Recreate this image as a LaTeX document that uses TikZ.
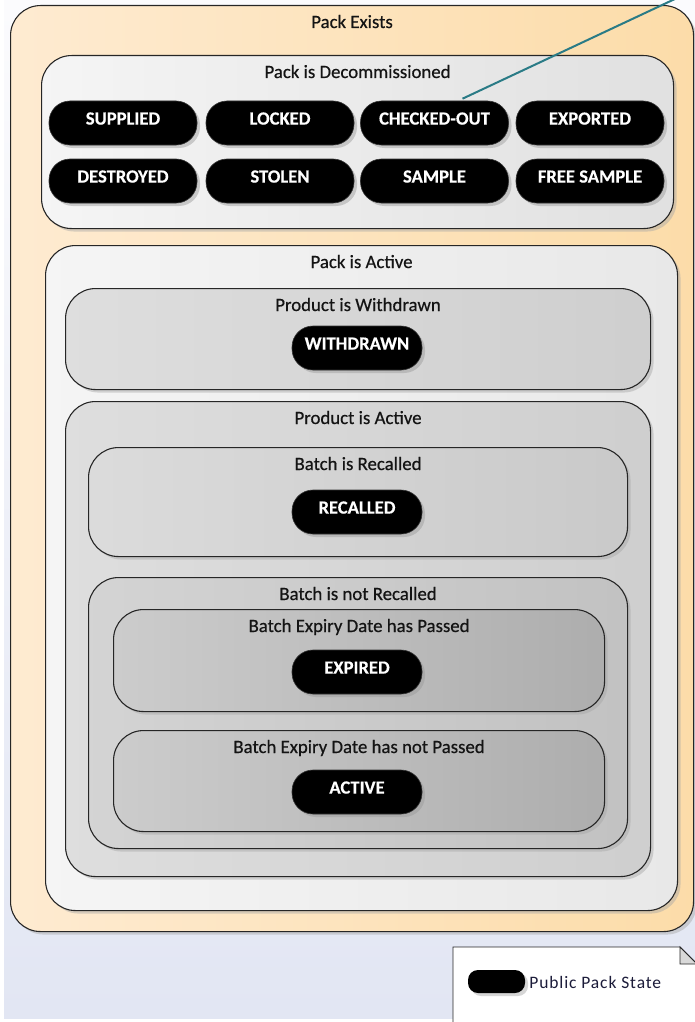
\documentclass[tikz,border=0pt]{standalone}
\usepackage{fontspec}
\setmainfont{Carlito}
\newfontfamily\regiontitlefont{Carlito}[FakeBold=0.5]
\newfontfamily\pillfont{Carlito}[BoldFeatures={FakeBold=0.4}]
\usetikzlibrary{calc,shadows}

\definecolor{bgtop}{HTML}{FBFBFD}
\definecolor{bgbottom}{HTML}{E2E6F3}
\definecolor{existsL}{HTML}{FEEBD1}
\definecolor{existsR}{HTML}{FCDCA9}
\definecolor{linkteal}{HTML}{2A7B86}
\definecolor{notetext}{HTML}{1C1C3A}

\tikzset{
  region/.style={draw=black!85, line width=1.1pt, rounded corners=30pt,
    anchor=north west, inner sep=0pt,
    drop shadow={shadow xshift=3pt, shadow yshift=-3pt, fill=black!35, opacity=0.45}},
  regiontitle/.style={anchor=base, font=\regiontitlefont\fontsize{18.8}{21}\selectfont, text=black!92, inner sep=0pt},
  pill/.style={fill=black, draw=black!80, line width=0.6pt, rounded corners=21pt,
    minimum height=44pt, inner sep=0pt, text=white,
    font=\pillfont\bfseries\fontsize{18.6}{21}\selectfont, text height=8pt, text depth=4.8pt,
    drop shadow={shadow xshift=3pt, shadow yshift=-3pt, fill=black!40, opacity=0.45}},
  rowpill/.style={pill, minimum width=148pt},
  midpill/.style={pill, minimum width=130pt},
  notebox/.style={draw=black!85, line width=0.9pt, fill=white},
}

% region box: name, x, y, width, height, left colour, right colour, title
\newcommand{\stateregion}[8]{%
  \node[region, minimum width=#4pt, minimum height=#5pt, left color=#6, right color=#7]
    (#1) at (#2,#3) {};
  \node[regiontitle] (#1-title) at ($(#1.north)+(0,23)$) {#8};
}

\begin{document}
\begin{tikzpicture}[x=1pt, y=-1pt]
  \useasboundingbox (0,0) rectangle (695,1022);
  \clip (0,0) rectangle (695,1022);

  % canvas
  \shade[top color=bgtop, bottom color=bgbottom] (4,0) rectangle (695,1018);

  % nested state regions
  \stateregion{exists}{10}{5}{683}{926}{existsL}{existsR}{Pack Exists}
  \stateregion{decomm}{41}{55}{632}{173}{black!4}{black!12}{Pack is Decommissioned}
  \stateregion{packactive}{45}{245}{632}{665}{black!4}{black!9}{Pack is Active}
  \stateregion{withdrawn}{65}{288}{585}{101}{black!13}{black!19}{Product is Withdrawn}
  \stateregion{prodactive}{65}{401}{585}{475}{black!13}{black!19}{Product is Active}
  \stateregion{recalled}{88}{447}{539}{109}{black!14}{black!21}{Batch is Recalled}
  \stateregion{notrecalled}{88}{577}{539}{271}{black!17}{black!24}{Batch is not Recalled}
  \stateregion{passed}{113}{609}{491}{102}{black!20}{black!32}{Batch Expiry Date has Passed}
  \stateregion{notpassed}{113}{730}{491}{101}{black!20}{black!32}{Batch Expiry Date has not Passed}

  % decommissioned states
  \node[rowpill] (supplied)   at (123,123)   {SUPPLIED};
  \node[rowpill] (locked)     at (280,123)   {LOCKED};
  \node[rowpill] (checkedout) at (434.5,123) {CHECKED-OUT};
  \node[rowpill] (exported)   at (590,123)   {EXPORTED};
  \node[rowpill] (destroyed)  at (123,181)   {DESTROYED};
  \node[rowpill] (stolen)     at (280,181)   {STOLEN};
  \node[rowpill] (sample)     at (434.5,181) {SAMPLE};
  \node[rowpill] (freesample) at (590,181)   {FREE SAMPLE};

  % active states
  \node[midpill] (withdrawnst) at (357,348) {WITHDRAWN};
  \node[midpill] (recalledst)  at (357,512) {RECALLED};
  \node[midpill] (expiredst)   at (357,672) {EXPIRED};
  \node[midpill] (activest)    at (357,792) {ACTIVE};

  % link leaving the picture
  \coordinate (linkend) at (677,-2);
  \draw[linkteal, line width=2pt] (checkedout.north) ++(28,-2) coordinate (linkstart) -- (linkend);

  % legend note
  \path[notebox] (453,947) -- (680,947) -- (697,964) -- (697,1024) -- (453,1024) -- cycle;
  \path[draw=black!85, line width=0.9pt, fill=black!15] (680,947) -- (680,964) -- (697,964) -- cycle;
  \node[fill=black, rounded corners=10pt, minimum width=57pt, minimum height=23pt, inner sep=0pt,
        drop shadow={shadow xshift=3pt, shadow yshift=-3pt, fill=black!40, opacity=0.4}]
        (legendpill) at (496.5,981.5) {};
  \node[anchor=west, inner sep=0pt, text=notetext,
        font=\addfontfeatures{LetterSpace=5}\fontsize{17.5}{20}\selectfont]
        (legendtext) at ($(legendpill.east)+(4,1)$) {Public Pack State};
\end{tikzpicture}
\end{document}
